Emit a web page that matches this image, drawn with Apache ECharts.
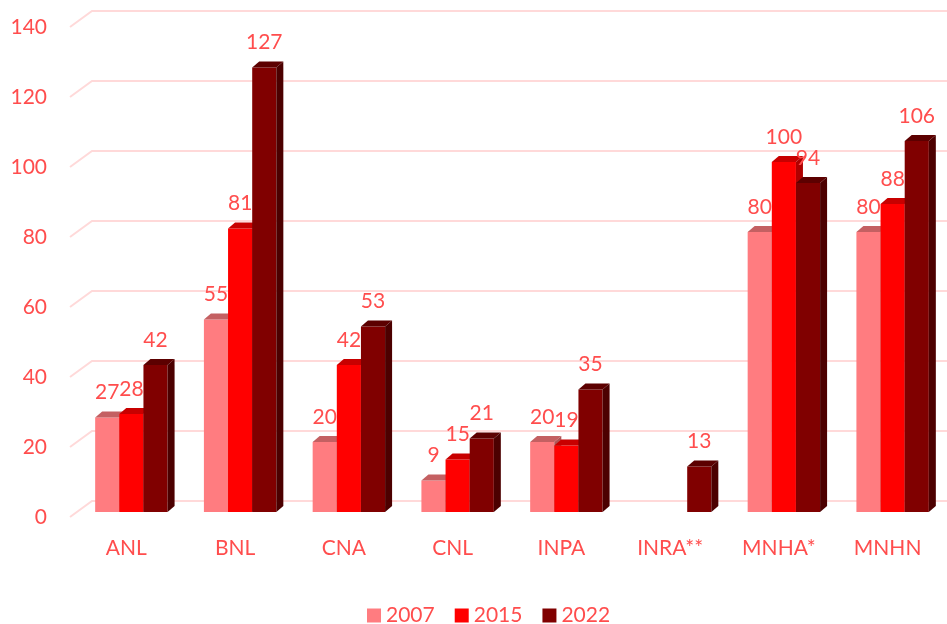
<!DOCTYPE html>
<html>
<head>
<meta charset="utf-8">
<script src="https://cdn.jsdelivr.net/npm/echarts@6/dist/echarts.min.js"></script>
<style>
    html,body{margin:0;padding:0;background:#fff;}
    #chart{width:947px;height:624px;}
</style>
</head>
<body>
<div id="chart"></div>
<script>
var categories = ['ANL', 'BNL', 'CNA', 'CNL', 'INPA', 'INRA**', 'MNHA*', 'MNHN'];
var years = ['2007', '2015', '2022'];
var v2007 = [27, 55, 20, 9, 20, null, 80, 80];
var v2015 = [28, 81, 42, 15, 19, null, 100, 88];
var v2022 = [42, 127, 53, 21, 35, 13, 94, 106];
var yTicks = [0, 20, 40, 60, 80, 100, 120, 140];

var frontColors = ['#ff7c80', '#ff0000', '#800000'];
var topColors = ['#c46062', '#c80000', '#5c0000'];
var sideColors = ['#b05557', '#b00000', '#4c0000'];
var textColor = '#ff4d4d';
var gridColor = '#ffd9d9';
var FONT = '21px Lato';
var DX = 7, DY = -6;

// one 3d-looking column: front face, top face, right side, value label
function barRenderer(idx) {
    return function (params, api) {
        var v = api.value(1);
        if (v == null || isNaN(v)) return;
        var band = api.size([1, 0])[0];
        var w = band * 0.222;
        var c = api.coord([api.value(0), v]);
        var base = api.coord([api.value(0), 0]);
        var x0 = c[0] - 1.5 * w + idx * w;
        var x1 = x0 + w;
        var yt = c[1], yb = base[1];
        return {
            type: 'group',
            children: [
                {type: 'rect', shape: {x: x0, y: yt, width: w, height: yb - yt}, style: {fill: frontColors[idx]}},
                {type: 'polygon', shape: {points: [[x0, yt], [x0 + DX, yt + DY], [x1 + DX, yt + DY], [x1, yt]]}, style: {fill: topColors[idx]}},
                {type: 'polygon', shape: {points: [[x1, yt], [x1 + DX, yt + DY], [x1 + DX, yb + DY], [x1, yb]]}, style: {fill: sideColors[idx]}},
                {type: 'text', z2: 100, style: {text: String(v), x: (x0 + x1) / 2, y: yt - 25, align: 'center', verticalAlign: 'middle', fill: textColor, font: FONT}}
            ]
        };
    };
}

// gridlines: short diagonal on the side wall, long line on the back wall,
// tick label sits at the front end of the diagonal
function gridRenderer(params, api) {
    var cs = params.coordSys;
    var t = api.value(1);
    var y = api.coord([0, t])[1];
    return {
        type: 'group',
        children: [
            {type: 'polyline', shape: {points: [[cs.x - 7, y + 5], [cs.x + 15, y - 11], [947, y - 11]]},
             style: {stroke: gridColor, lineWidth: 2, fill: null}},
            {type: 'text', style: {text: String(t), x: cs.x - 30, y: y + 5, align: 'right', verticalAlign: 'middle', fill: textColor, font: FONT}}
        ]
    };
}

function toData(arr) {
    return arr.map(function (v, i) { return [i, v]; });
}

var chart = echarts.init(document.getElementById('chart'));
var seriesVals = [v2007, v2015, v2022];
var series = [{
    name: 'grid',
    type: 'custom',
    silent: true,
    z: 1,
    renderItem: gridRenderer,
    data: yTicks.map(function (t) { return [0, t]; })
}];
years.forEach(function (y, i) {
    series.push({
        name: y,
        type: 'custom',
        z: 2,
        itemStyle: {color: frontColors[i]},
        renderItem: barRenderer(i),
        data: toData(seriesVals[i])
    });
});

var option = {
    animation: false,
    textStyle: {fontFamily: 'Lato'},
    grid: {left: 77, right: 0, top: 22, bottom: 112},
    legend: {
        data: years,
        left: 362,
        top: 600,
        icon: 'rect',
        itemWidth: 14,
        itemHeight: 14,
        itemGap: 20,
        textStyle: {color: textColor, fontSize: 21, fontFamily: 'Lato'}
    },
    xAxis: {
        type: 'category',
        data: categories,
        axisLine: {show: false},
        axisTick: {show: false},
        splitLine: {show: false},
        axisLabel: {color: textColor, fontSize: 21, margin: 26, padding: [0, 10, 0, 0]}
    },
    yAxis: {
        type: 'value',
        min: 0,
        max: 140,
        interval: 20,
        axisLine: {show: false},
        axisTick: {show: false},
        splitLine: {show: false},
        axisLabel: {show: false}
    },
    series: series
};
chart.setOption(option);
</script>
</body>
</html>
